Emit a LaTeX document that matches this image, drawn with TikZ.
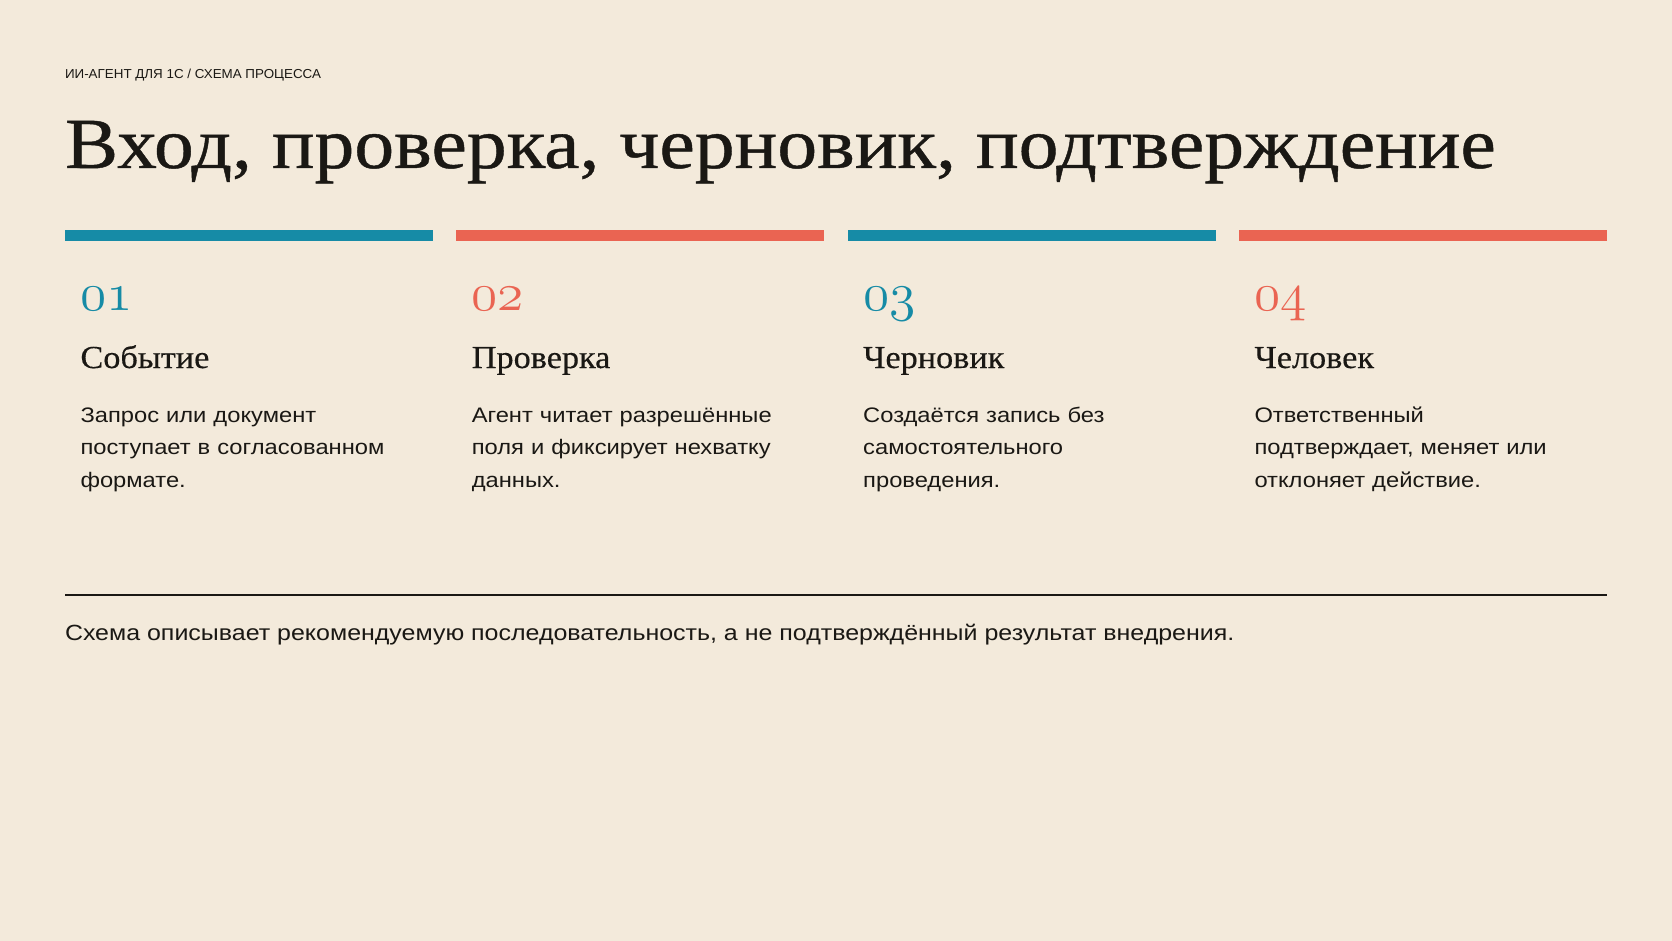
\documentclass[tikz,border=0pt]{standalone}
\usepackage{fontspec}
\setmainfont{Liberation Serif}
\newfontfamily\titlef{Liberation Serif}[FakeStretch=1.107,FakeBold=0.6]
\newfontfamily\headf{Liberation Serif}[FakeStretch=1.07,FakeBold=0.4]
\newfontfamily\sansf{Liberation Sans}[FakeStretch=1.13]
\newfontfamily\footf{Liberation Sans}[FakeStretch=1.135]
\newfontfamily\kickf{Liberation Sans}[FakeStretch=1.03]
\newcommand{\osnum}[1]{\scalebox{2.15}{\usefont{OML}{lmm}{m}{it}#1}}
\definecolor{bgc}{RGB}{243,234,219}
\definecolor{tealc}{RGB}{22,139,166}
\definecolor{coralc}{RGB}{234,100,82}
\definecolor{inkc}{RGB}{26,24,20}
\begin{document}
\begin{tikzpicture}[x=1pt,y=-1pt,
  every node/.style={inner sep=0pt,outer sep=0pt,anchor=base west,text=inkc},
  kicker/.style={font=\kickf\fontsize{13}{15}\selectfont},
  titletext/.style={font=\titlef\fontsize{72}{80}\selectfont},
  numtext/.style={font=\fontsize{58}{60}\selectfont},
  headtext/.style={font=\headf\fontsize{32}{36}\selectfont},
  bodytext/.style={font=\sansf\fontsize{21}{32.5}\selectfont,text width=370pt,align=left},
  foot/.style={font=\footf\fontsize{22}{26}\selectfont}]
\fill[bgc] (0,0) rectangle (1672,941);
\useasboundingbox (0,0) rectangle (1672,941);

\node[kicker] (kick) at (65,79) {ИИ-АГЕНТ ДЛЯ 1С / СХЕМА ПРОЦЕССА};
\node[titletext] (title) at (65,168) {Вход, проверка, черновик, подтверждение};

\fill[tealc]  (65,230) rectangle (433,241.5);
\fill[coralc] (456.3,230) rectangle (824.3,241.5);
\fill[tealc]  (847.7,230) rectangle (1215.7,241.5);
\fill[coralc] (1239,230) rectangle (1607,241.5);

\node[numtext,text=tealc]  (n1) at (80.5,310) {\osnum{01}};
\node[numtext,text=coralc] (n2) at (471.8,310) {\osnum{02}};
\node[numtext,text=tealc]  (n3) at (863.2,310) {\osnum{03}};
\node[numtext,text=coralc] (n4) at (1254.5,310) {\osnum{04}};

\node[headtext] (h1) at (80.5,368) {Событие};
\node[headtext] (h2) at (471.8,368) {Проверка};
\node[headtext] (h3) at (863.2,368) {Черновик};
\node[headtext] (h4) at (1254.5,368) {Человек};

\node[bodytext] (b1) at (80.5,422) {Запрос или документ\\поступает в согласованном\\формате.};
\node[bodytext] (b2) at (471.8,422) {Агент читает разрешённые\\поля и фиксирует нехватку\\данных.};
\node[bodytext] (b3) at (863.2,422) {Создаётся запись без\\самостоятельного\\проведения.};
\node[bodytext] (b4) at (1254.5,422) {Ответственный\\подтверждает, меняет или\\отклоняет действие.};

\draw[inkc,line width=2pt] (65,594.5) -- (1607,594.5);
\node[foot] (ft) at (65,640) {Схема описывает рекомендуемую последовательность, а не подтверждённый результат внедрения.};
\end{tikzpicture}
\end{document}
